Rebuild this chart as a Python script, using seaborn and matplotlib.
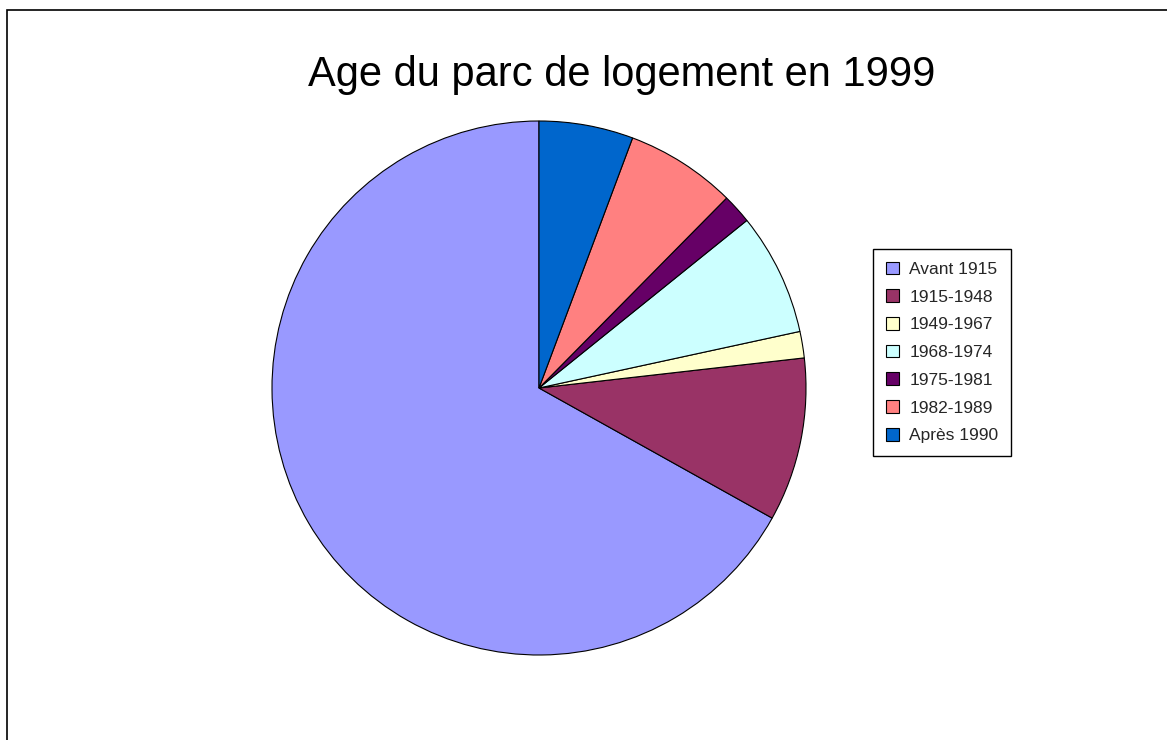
import matplotlib
matplotlib.use("Agg")
import matplotlib.pyplot as plt
import seaborn as sns
from matplotlib.patches import Rectangle

categories = ["Avant 1915", "1915-1948", "1949-1967", "1968-1974",
              "1975-1981", "1982-1989", "Après 1990"]
values = [66.9, 9.9, 1.6, 7.4, 1.8, 6.7, 5.7]
colors = ["#9999FF", "#993366", "#FFFFCC", "#CCFFFF",
          "#660066", "#FF8080", "#0066CC"]
title = "Age du parc de logement en 1999"

sns.set_theme(style="white")
plt.rcParams["font.family"] = ["Liberation Sans", "DejaVu Sans"]

W, H = 1167, 740
fig = plt.figure(figsize=(W / 100, H / 100), dpi=100)
fig.patch.set_facecolor("white")

cx, cy, r = 539, 388, 267
ax = fig.add_axes([(cx - r) / W, 1 - (cy + r) / H, 2 * r / W, 2 * r / H])
wedges, _ = ax.pie(values, colors=colors, startangle=90, counterclock=True,
                   wedgeprops=dict(edgecolor="black", linewidth=0.8))
ax.set_xlim(-1, 1)
ax.set_ylim(-1, 1)
ax.set_aspect("equal")
ax.axis("off")

fig.text(622 / W, 1 - 75 / H, title, ha="center", va="center",
         fontsize=30, color="black")

leg = fig.legend(wedges, categories, loc="upper left",
                 bbox_to_anchor=(873 / W, 1 - 249 / H), borderaxespad=0,
                 fontsize=12.5, frameon=True, fancybox=False,
                 edgecolor="black", framealpha=1,
                 handlelength=0.75, handleheight=0.75, handletextpad=0.63,
                 labelspacing=0.71, borderpad=0.72)
leg.get_frame().set_linewidth(1.0)
for h in leg.legend_handles:
    h.set_edgecolor("black")
    h.set_linewidth(0.8)

# outer chart border (extends past right/bottom edges)
fig.patches.append(Rectangle((7 / W, -0.05), 1.2, 1 - 10 / H + 0.05,
                             transform=fig.transFigure, fill=False,
                             edgecolor="black", linewidth=1.2))

fig.savefig("out.png", dpi=100, facecolor="white")
